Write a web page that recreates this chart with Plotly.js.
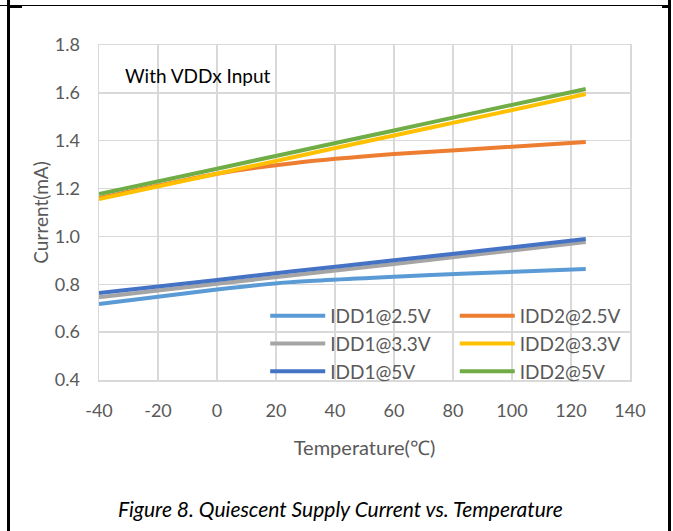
<!DOCTYPE html>
<html>
<head>
<meta charset="utf-8">
<script src="https://cdn.plot.ly/plotly-3.0.1.min.js"></script>
<style>
  html, body { margin: 0; padding: 0; background: #fff; }
  #chart { width: 673px; height: 531px; }
  .frame { position: absolute; background: #000; pointer-events: none; }
</style>
</head>
<body>
<div id="chart"></div>
<div class="frame" style="left:7px; top:0px; width:3px; height:531px;"></div>
<div class="frame" style="left:0px; top:5px; width:670px; height:1px;"></div>
<div class="frame" style="left:7px; top:5px; width:15px; height:3px;"></div>
<div class="frame" style="left:662px; top:5px; width:6px; height:3px;"></div>
<div class="frame" style="left:668px; top:0px; width:3px; height:531px;"></div>
<script>
const temperature = [-40, 0, 25, 60, 85, 125];
const idd1_2v5 = [0.718, 0.778, 0.809, 0.832, 0.845, 0.864];
const idd1_3v3 = [0.746, 0.802, 0.837, 0.885, 0.920, 0.977];
const idd1_5v  = [0.764, 0.818, 0.853, 0.900, 0.934, 0.989];
const idd2_2v5 = [1.160, 1.262, 1.305, 1.344, 1.363, 1.395];
const idd2_3v3 = [1.156, 1.262, 1.329, 1.422, 1.488, 1.595];
const idd2_5v  = [1.177, 1.283, 1.350, 1.443, 1.510, 1.616];

const xTickValues = [-40, -20, 0, 20, 40, 60, 80, 100, 120, 140];
const xTickLabels = ["-40", "-20", "0", "20", "40", "60", "80", "100", "120", "140"];

const seriesNames = ["IDD1@2.5V", "IDD1@3.3V", "IDD1@5V", "IDD2@2.5V", "IDD2@3.3V", "IDD2@5V"];
const seriesValues = [idd1_2v5, idd1_3v3, idd1_5v, idd2_2v5, idd2_3v3, idd2_5v];
const seriesColors = ["#5B9BD5", "#A5A5A5", "#4472C4", "#ED7D31", "#FFC000", "#70AD47"];
const seriesLegend = ["legend", "legend", "legend", "legend2", "legend2", "legend2"];

const FONT = "Lato, 'Open Sans', sans-serif";
const GRID = "#d9d9d9";

const traces = seriesNames.map((name, i) => ({
  type: "scatter",
  mode: "lines",
  name: name,
  legend: seriesLegend[i],
  x: temperature,
  y: seriesValues[i],
  line: { color: seriesColors[i], width: 4, shape: "spline", smoothing: 0.6 },
  hoverinfo: "x+y+name"
}));

const legendCommon = {
  orientation: "v",
  xanchor: "left",
  y: 0.248, yanchor: "top",
  bgcolor: "rgba(0,0,0,0)",
  itemwidth: 55,
  traceorder: "normal",
  font: { family: FONT, size: 19, color: "#595959" }
};

const layout = {
  width: 673,
  height: 531,
  paper_bgcolor: "#ffffff",
  plot_bgcolor: "#ffffff",
  margin: { l: 99, r: 43, t: 45, b: 151 },
  font: { family: FONT, color: "#595959", size: 17 },
  showlegend: true,
  legend: Object.assign({}, legendCommon, { x: 0.313 }),
  legend2: Object.assign({}, legendCommon, { x: 0.670 }),
  xaxis: {
    range: [-40, 140],
    tickmode: "array",
    tickvals: xTickValues,
    ticktext: xTickLabels,
    showgrid: true,
    gridcolor: GRID,
    gridwidth: 1.5,
    showline: true,
    linecolor: GRID,
    linewidth: 1.5,
    mirror: true,
    zeroline: false,
    ticks: "",
    ticklabelstandoff: 14,
    tickfont: { family: FONT, size: 18, color: "#595959" },
    title: { text: "Temperature(℃)", font: { family: FONT, size: 20, color: "#595959" }, standoff: 21 }
  },
  yaxis: {
    range: [0.4, 1.8],
    dtick: 0.2,
    tickformat: ".1f",
    showgrid: true,
    gridcolor: GRID,
    gridwidth: 1.5,
    showline: true,
    linecolor: GRID,
    linewidth: 1.5,
    mirror: true,
    zeroline: false,
    ticks: "",
    ticklabelstandoff: 14,
    tickfont: { family: FONT, size: 18, color: "#595959" },
    title: { text: "Current(mA)", font: { family: FONT, size: 19, color: "#595959" }, standoff: 1 }
  },
  annotations: [
    {
      text: "With VDDx Input",
      xref: "paper", yref: "paper",
      x: 0.045, y: 0.91, xanchor: "left", yanchor: "middle",
      showarrow: false,
      font: { family: FONT, size: 19, color: "#000000" }
    },
    {
      text: "<i>Figure 8. Quiescent Supply Current vs. Temperature</i>",
      xref: "paper", yref: "paper",
      x: 0.454, y: -0.385, xanchor: "center", yanchor: "middle",
      showarrow: false,
      font: { family: FONT, size: 21, color: "#000000" }
    }
  ]
};

Plotly.newPlot("chart", traces, layout, { displayModeBar: false, staticPlot: true });
</script>
</body>
</html>
